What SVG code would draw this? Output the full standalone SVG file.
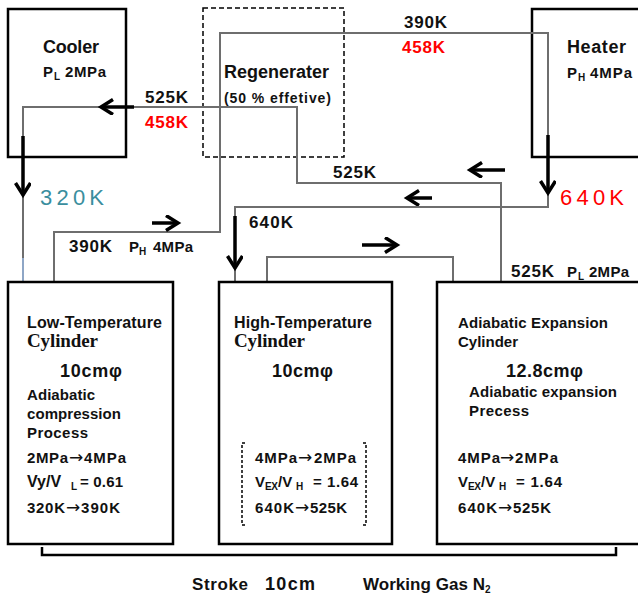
<svg xmlns="http://www.w3.org/2000/svg" width="638" height="599" viewBox="0 0 638 599">
<style>
text{font-family:"Liberation Sans",Arial,sans-serif;font-weight:bold;fill:#111}
.box{fill:#fff;stroke:#000;stroke-width:2.5}
.dash{fill:none;stroke:#000;stroke-width:1.5;stroke-dasharray:5,3}
.pipe{fill:none;stroke:#6e6e6e;stroke-width:2}
.arr{fill:none;stroke:#000;stroke-width:3.5;marker-end:url(#ah)}
.t17{font-size:17px}
.t18{font-size:18px}
.t15{font-size:15px}
.t16{font-size:16px}
.t14{font-size:14px}
.sub{font-size:10px}
.ar{font-family:"DejaVu Sans",sans-serif;font-weight:normal;font-size:17px;text-anchor:middle}
.big{font-size:22px;font-weight:normal}
.serif{font-family:"Liberation Serif","Times New Roman",serif;font-size:19px}
.red{fill:#ff0000}
.teal{fill:#3a8e9e}
</style>
<defs>
<marker id="ah" markerUnits="userSpaceOnUse" markerWidth="20" markerHeight="20" refX="13" refY="8" orient="auto">
<path d="M1,0.5 L13,8 L1,15.5" fill="none" stroke="#000" stroke-width="3.5"/>
</marker>
</defs>
<rect width="638" height="599" fill="#fff"/>

<g id="cooler">
<rect class="box" x="8" y="9" width="118" height="148"/>
<text class="t18" x="43" y="53" textLength="56">Cooler</text>
<text class="t15" x="43" y="77">P</text><text class="sub" x="54" y="80">L</text><text class="t15" x="65" y="77" textLength="41">2MPa</text>
</g>

<g id="regenerator">
<rect class="dash" x="203" y="8" width="141" height="149"/>
<text class="t18" x="224" y="78" textLength="105">Regenerater</text>
<text class="t14" x="224" y="103" textLength="107">(50 % effetive)</text>
</g>

<g id="heater">
<rect class="box" x="532" y="9" width="110" height="148"/>
<text class="t18" x="567" y="53" textLength="59">Heater</text>
<text class="t15" x="567" y="78">P</text><text class="sub" x="578" y="81">H</text><text class="t15" x="590" y="78" textLength="42">4MPa</text>
</g>

<g id="connectors">
<path class="pipe" d="M23,258 V107 H297 V183 H501 V282"/>
<path d="M23,258 V282" fill="none" stroke="#8ea6c6" stroke-width="2"/>
<path class="pipe" d="M54,282 V232 H220 V33 H548 V207 H235 V282"/>
<path class="pipe" d="M267,282 V257 H453 V282"/>
<path class="arr" d="M23,136 V195"/>
<path class="arr" d="M134,107 H101"/>
<path class="arr" d="M548,135 V193"/>
<path class="arr" d="M505,170 H470"/>
<path class="arr" d="M432,198 H407"/>
<path class="arr" d="M152,223 H178"/>
<path class="arr" d="M362,245 H397"/>
<path class="arr" d="M235,216 V268"/>
</g>

<g id="labels">
<text class="t17" x="145" y="103" textLength="43">525K</text>
<text class="t17 red" x="145" y="128" textLength="43">458K</text>
<text class="t17" x="404" y="28" textLength="43">390K</text>
<text class="t17 red" x="402" y="53" textLength="43">458K</text>
<text class="t17" x="333" y="178" textLength="43">525K</text>
<text class="big teal" x="40" y="205" textLength="64">320K</text>
<text class="big red" x="560" y="205" textLength="64">640K</text>
<text class="t17" x="69" y="252" textLength="43">390K</text>
<text class="t15" x="129" y="252">P</text><text class="sub" x="139" y="255">H</text><text class="t15" x="153" y="252" textLength="40">4MPa</text>
<text class="t17" x="249" y="228" textLength="44">640K</text>
<text class="t17" x="511" y="277" textLength="43">525K</text>
<text class="t15" x="567" y="277">P</text><text class="sub" x="578" y="280">L</text><text class="t15" x="589" y="277" textLength="40">2MPa</text>
</g>

<g id="low-cylinder">
<rect class="box" x="8" y="282" width="165" height="262"/>
<text class="t16" x="27" y="328" textLength="135">Low-Temperature</text>
<text class="serif" x="27" y="347" textLength="71">Cylinder</text>
<text class="t18" x="60" y="377" textLength="62">10cmφ</text>
<text class="t15" x="27" y="400" textLength="68">Adiabatic</text>
<text class="t15" x="27" y="419" textLength="94">compression</text>
<text class="t15" x="27" y="438" textLength="61">Process</text>
<text class="t15" x="27" y="463" textLength="41">2MPa</text><text class="ar" x="76" y="463">→</text><text class="t15" x="84" y="463" textLength="42">4MPa</text>
<text class="t16" x="27" y="487">Vy/V</text><text class="sub" x="71" y="490">L</text><text class="t15" x="80" y="487" textLength="43">= 0.61</text>
<text class="t15" x="27" y="513" textLength="38">320K</text><text class="ar" x="73" y="513">→</text><text class="t15" x="81" y="513" textLength="39">390K</text>
</g>

<g id="high-cylinder">
<rect class="box" x="219" y="282" width="173" height="262"/>
<text class="t16" x="234" y="328" textLength="138">High-Temperature</text>
<text class="serif" x="234" y="347" textLength="71">Cylinder</text>
<text class="t18" x="272" y="377" textLength="61">10cmφ</text>
<path d="M245,443 H242 V525 H245 M363,443 H366 V525 H363" fill="none" stroke="#000" stroke-width="1.5" stroke-dasharray="3,2"/>
<text class="t15" x="255" y="463" textLength="42">4MPa</text><text class="ar" x="305" y="463">→</text><text class="t15" x="314" y="463" textLength="42">2MPa</text>
<text class="t15" x="255" y="487">V</text><text class="sub" x="265" y="490" textLength="13">EX</text><text class="t15" x="278" y="487">/V</text><text class="sub" x="296" y="490">H</text><text class="t15" x="313" y="487" textLength="45">= 1.64</text>
<text class="t15" x="255" y="513" textLength="39">640K</text><text class="ar" x="302" y="513">→</text><text class="t15" x="310" y="513" textLength="37">525K</text>
</g>

<g id="expansion-cylinder">
<rect class="box" x="437" y="282" width="205" height="262"/>
<text class="t15" x="458" y="328" textLength="150">Adiabatic Expansion</text>
<text class="t15" x="458" y="347" textLength="60">Cylinder</text>
<text class="t18" x="506" y="377" textLength="77">12.8cmφ</text>
<text class="t15" x="469" y="397" textLength="148">Adiabatic expansion</text>
<text class="t15" x="469" y="416" textLength="60">Precess</text>
<text class="t15" x="458" y="463" textLength="42">4MPa</text><text class="ar" x="507" y="463">→</text><text class="t15" x="515" y="463" textLength="43">2MPa</text>
<text class="t15" x="458" y="487">V</text><text class="sub" x="468" y="490" textLength="13">EX</text><text class="t15" x="481" y="487">/V</text><text class="sub" x="499" y="490">H</text><text class="t15" x="516" y="487" textLength="46">= 1.64</text>
<text class="t15" x="458" y="513" textLength="39">640K</text><text class="ar" x="505" y="513">→</text><text class="t15" x="513" y="513" textLength="38">525K</text>
</g>

<g id="stroke-note">
<path d="M42,547 V555 H616 V547" fill="none" stroke="#000" stroke-width="2.5"/>
<text class="t17" x="192" y="590" textLength="56">Stroke</text>
<text class="t18" x="265" y="590" textLength="50">10cm</text>
<text class="t17" x="363" y="590" textLength="122">Working Gas N</text><text class="sub" x="485" y="593">2</text>
</g>
</svg>
